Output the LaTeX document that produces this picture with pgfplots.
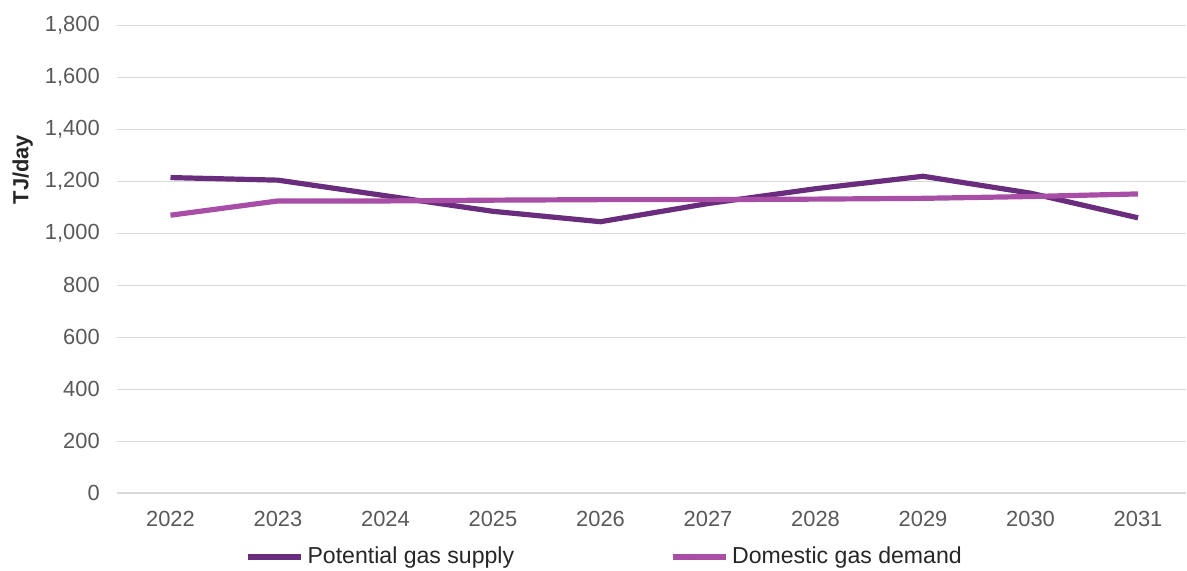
\documentclass[border={3bp 0pt 0pt 5bp}]{standalone}
\usepackage{pgfplots}
\pgfplotsset{compat=1.18}
\usepackage{fontspec}
\setmainfont{Liberation Sans}
\definecolor{supply}{RGB}{106,44,124}
\definecolor{demand}{RGB}{168,78,166}
\definecolor{tickgray}{RGB}{89,89,89}
\definecolor{gridgray}{RGB}{217,217,217}
\begin{document}
\begin{tikzpicture}
\begin{axis}[
  scale only axis,
  width=535.5bp, height=234bp,
  xmin=-0.5, xmax=9.45,
  ymin=0, ymax=1800,
  ytick={0,200,...,1800},
  xtick={0,...,9},
  xticklabels={2022,2023,2024,2025,2026,2027,2028,2029,2030,2031},
  ymajorgrids,
  grid style={gridgray, line width=0.6bp},
  axis x line*=bottom,
  axis y line*=left,
  y axis line style={draw=none},
  x axis line style={gridgray, line width=0.6bp},
  major tick style={draw=none},
  tick label style={font=\fontsize{11}{13}\selectfont, text=tickgray},
  /pgf/number format/assume math mode=true,
  /pgf/number format/1000 sep={,},
  yticklabel style={xshift=-5bp},
  xticklabel style={yshift=-5.5bp},
  ylabel={TJ/day},
  ylabel style={font=\fontsize{11}{13}\selectfont\bfseries, text=black!85, at={(axis description cs:-0.0878,0.692)}, anchor=center},
  legend columns=2,
  legend style={draw=none, fill=none, inner sep=0pt, at={(axis description cs:0.12,-0.137)}, anchor=west, font=\fontsize{11.6}{13}\selectfont, text=black!85,
    /tikz/every even column/.append style={column sep=76bp}},
  legend image code/.code={\draw[#1, line width=2.6bp] (0bp,0bp) -- (26.5bp,0bp);},
]
\addplot[supply, line width=2.6bp, line join=round] coordinates {
(0,1215) (1,1205) (2,1145) (3,1085) (4,1045) (5,1115) (6,1172) (7,1220) (8,1155) (9,1060)};
\addlegendentry{Potential gas supply}
\addplot[demand, line width=2.6bp, line join=round] coordinates {
(0,1070) (1,1125) (2,1125) (3,1128) (4,1130) (5,1130) (6,1132) (7,1135) (8,1142) (9,1152)};
\addlegendentry{Domestic gas demand}
\end{axis}
\end{tikzpicture}
\end{document}
